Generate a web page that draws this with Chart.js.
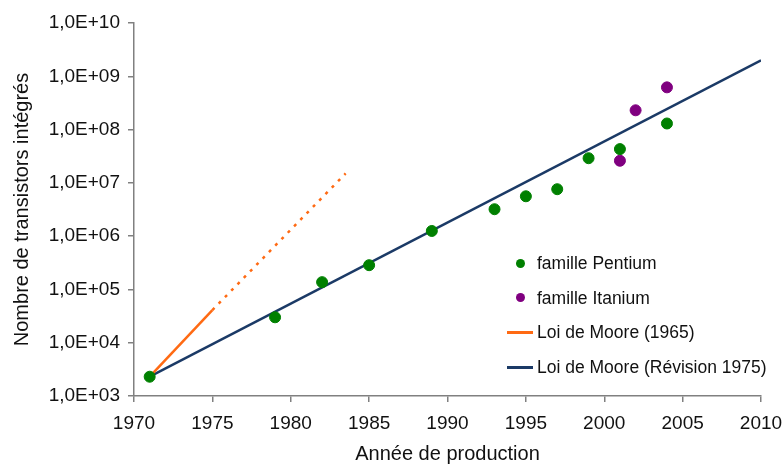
<!DOCTYPE html>
<html>
<head>
<meta charset="utf-8">
<script src="https://cdn.jsdelivr.net/npm/chart.js@4"></script>
<style>
  html, body { margin: 0; padding: 0; background: #fff; }
  #wrap { position: relative; width: 783px; height: 466px; }
  #legend { position: absolute; left: 505px; top: 253px; font-family: Arial, "Liberation Sans", sans-serif; font-size: 17.5px; color: #111; }
  .item { position: absolute; left: 0; height: 20px; white-space: nowrap; }
  .sym { position: absolute; top: 10px; }
  .txt { position: absolute; left: 32px; top: 0; line-height: 20px; }
</style>
</head>
<body>
<div id="wrap">
  <canvas id="myChart" width="783" height="466"></canvas>
  <div id="legend"></div>
</div>
<script>
const pentiumYears = [1971, 1979, 1982, 1985, 1989, 1993, 1995, 1997, 1999, 2001, 2004];
const pentiumCounts = [2300, 30000, 137000, 285000, 1250000, 3200000, 5600000, 7600000, 29000000, 43000000, 130000000];

const itaniumYears = [2001, 2002, 2004];
const itaniumCounts = [26000000, 230000000, 620000000];

const moore1965Years = [1971, 1975];
const moore1965Counts = [2300, 41000];
const moore1965ExtYears = [1975, 1983.5];
const moore1965ExtCounts = [41000, 15000000];

const moore1975Years = [1971, 2010];
const moore1975Counts = [2300, 2000000000];

const yTicks = [1e3, 1e4, 1e5, 1e6, 1e7, 1e8, 1e9, 1e10];

const green = '#008000';
const purple = '#800080';
const orange = '#FF6A13';
const navy = '#1B3A66';
const axisGray = '#808080';
const font = 'Arial, "Liberation Sans", sans-serif';

function pts(xs, ys) {
    return xs.map((x, i) => ({ x: x, y: ys[i] }));
}

const ctx = document.getElementById('myChart').getContext('2d');

const data = {
    datasets: [
        {
            label: 'famille Pentium',
            data: pts(pentiumYears, pentiumCounts),
            backgroundColor: green,
            borderColor: green,
            pointRadius: 5.5,
            order: 0
        },
        {
            label: 'famille Itanium',
            data: pts(itaniumYears, itaniumCounts),
            backgroundColor: purple,
            borderColor: purple,
            pointRadius: 5.5,
            order: 0
        },
        {
            label: 'Loi de Moore (1965)',
            data: pts(moore1965Years, moore1965Counts),
            showLine: true,
            borderColor: orange,
            borderWidth: 2.5,
            pointRadius: 0,
            order: 1
        },
        {
            label: 'Loi de Moore (1965) extrapolée',
            data: pts(moore1965ExtYears, moore1965ExtCounts),
            showLine: true,
            borderColor: orange,
            borderWidth: 2.5,
            borderDash: [3, 6],
            pointRadius: 0,
            order: 1
        },
        {
            label: 'Loi de Moore (Révision 1975)',
            data: pts(moore1975Years, moore1975Counts),
            showLine: true,
            borderColor: navy,
            borderWidth: 2.5,
            pointRadius: 0,
            order: 1
        }
    ]
};

const config = {
    type: 'scatter',
    data: data,
    options: {
        responsive: false,
        animation: false,
        layout: {
            padding: { top: 23, right: 22, left: 0, bottom: 0 }
        },
        scales: {
            x: {
                type: 'linear',
                min: 1970,
                max: 2010,
                ticks: {
                    stepSize: 5,
                    color: '#111',
                    font: { family: font, size: 19 },
                    padding: 10,
                    callback: v => String(v)
                },
                grid: {
                    drawOnChartArea: false,
                    drawTicks: true,
                    tickLength: 6,
                    color: axisGray,
                    lineWidth: 1.5
                },
                border: { color: axisGray, width: 1.5 },
                title: {
                    display: true,
                    text: 'Année de production',
                    color: '#111',
                    font: { family: font, size: 20 },
                    padding: { top: 0, bottom: 0 }
                },
                afterFit: s => {
                    s.height = 70;
                    s.paddingLeft = 0;
                    s.paddingRight = 0;
                }
            },
            y: {
                type: 'logarithmic',
                min: 1e3,
                max: 1e10,
                afterBuildTicks: s => { s.ticks = yTicks.map(v => ({ value: v })); },
                ticks: {
                    color: '#111',
                    font: { family: font, size: 19 },
                    padding: 8,
                    callback: v => {
                        const e = Math.round(Math.log10(v));
                        return '1,0E+' + (e < 10 ? '0' + e : e);
                    }
                },
                grid: {
                    drawOnChartArea: false,
                    drawTicks: true,
                    tickLength: 6,
                    color: axisGray,
                    lineWidth: 1.5
                },
                border: { color: axisGray, width: 1.5 },
                title: {
                    display: true,
                    text: 'Nombre de transistors intégrés',
                    color: '#111',
                    font: { family: font, size: 20 },
                    padding: { top: 10, bottom: 0 }
                },
                afterFit: s => {
                    s.width = 134;
                    s.paddingTop = 0;
                    s.paddingBottom = 0;
                }
            }
        },
        plugins: {
            legend: { display: false },
            tooltip: { enabled: false }
        }
    }
};

const myChart = new Chart(ctx, config);

// legend drawn as html, inside the plot on the right
const legendItems = [
    { ds: 0, kind: 'dot' },
    { ds: 1, kind: 'dot' },
    { ds: 2, kind: 'line' },
    { ds: 4, kind: 'line' }
];
const legendEl = document.getElementById('legend');
legendItems.forEach((it, i) => {
    const ds = data.datasets[it.ds];
    const item = document.createElement('div');
    item.className = 'item';
    item.style.top = (i * 34.7) + 'px';
    const sym = document.createElement('div');
    sym.className = 'sym';
    if (it.kind === 'dot') {
        sym.style.left = '11px';
        sym.style.width = '9px';
        sym.style.height = '9px';
        sym.style.marginTop = '-4.5px';
        sym.style.borderRadius = '50%';
        sym.style.background = ds.backgroundColor;
    } else {
        sym.style.left = '2px';
        sym.style.width = '26px';
        sym.style.height = '3px';
        sym.style.marginTop = '-1.5px';
        sym.style.background = ds.borderColor;
    }
    const txt = document.createElement('div');
    txt.className = 'txt';
    txt.textContent = ds.label;
    item.appendChild(sym);
    item.appendChild(txt);
    legendEl.appendChild(item);
});
</script>
</body>
</html>
